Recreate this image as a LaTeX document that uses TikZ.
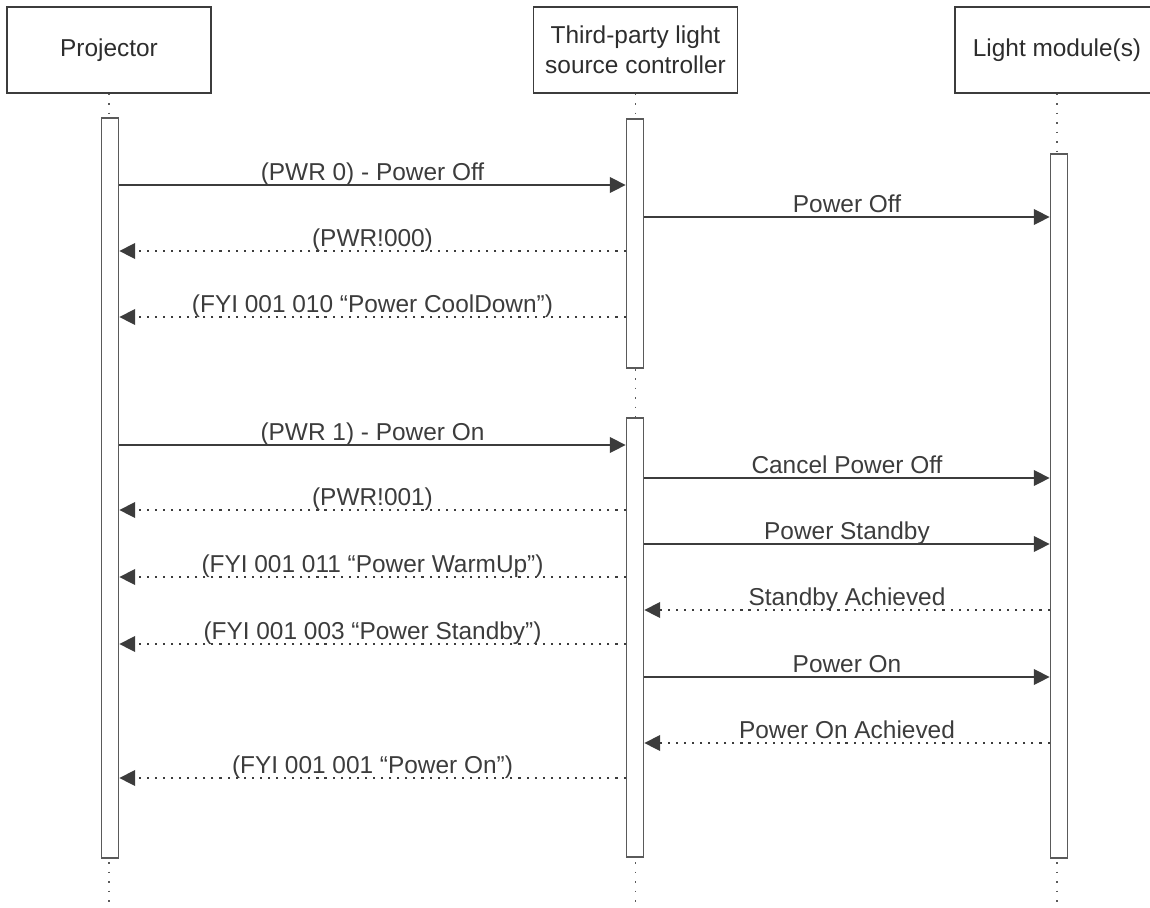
\documentclass[tikz,border=0pt]{standalone}
\usepackage{fontspec}
\setmainfont{Liberation Sans}
\definecolor{ink}{RGB}{45,45,45}
\definecolor{wire}{RGB}{60,60,60}
\definecolor{edge}{RGB}{90,90,90}
\usetikzlibrary{arrows.meta, positioning}

\begin{document}
\begin{tikzpicture}[x=0.02cm, y=-0.02cm,
    font=\fontsize{13.9}{17}\selectfont, text=ink,
    actor/.style={draw=wire, line width=0.7pt, minimum width=4.08cm, minimum height=1.72cm, align=center, inner sep=0pt},
    bar/.style={draw=edge, fill=white, line width=1pt, minimum width=0.34cm, inner sep=0pt},
    life/.style={edge, line width=0.8pt, dash pattern=on 1pt off 4.4pt},
    call/.style={wire, line width=0.75pt, -{Triangle[length=9pt,width=9pt]}},
    reply/.style={call, dash pattern=on 1.2pt off 3.4pt},
    lbl/.style={anchor=base, inner sep=0pt, yshift=0.1cm}]
\useasboundingbox (0,0) rectangle (1150,907);

% participants
\node[actor] (proj) at (109,50) {Projector};
\node[actor] (ctrl) at (635.5,50) {Third-party light\\source controller};
\node[actor] (light) at (1057,50) {Light module(s)};

% lifelines
\foreach \p in {proj, ctrl, light}
    \draw[life] (\p.south) -- (\p.south |- 0,907);

% activations
\node[bar, minimum height=14.8cm] (pbar) at (110,488) {};
\node[bar, minimum height=4.98cm] (cbarA) at (635,243.5) {};
\node[bar, minimum height=8.78cm] (cbarB) at (635,637.5) {};
\node[bar, minimum height=14.08cm] (lbar) at (1059,506) {};

% messages
\foreach \y/\s/\e/\k/\t in {
    185/pbar.east/cbarA.west/call/{(PWR 0) - Power Off},
    217/cbarA.east/lbar.west/call/{Power Off},
    251/cbarA.west/pbar.east/reply/{(PWR!000)},
    317/cbarA.west/pbar.east/reply/{(FYI 001 010 “Power CoolDown”)},
    445/pbar.east/cbarB.west/call/{(PWR 1) - Power On},
    478/cbarB.east/lbar.west/call/{Cancel Power Off},
    510/cbarB.west/pbar.east/reply/{(PWR!001)},
    544/cbarB.east/lbar.west/call/{Power Standby},
    577/cbarB.west/pbar.east/reply/{(FYI 001 011 “Power WarmUp”)},
    610/lbar.west/cbarB.east/reply/{Standby Achieved},
    644/cbarB.west/pbar.east/reply/{(FYI 001 003 “Power Standby”)},
    677/cbarB.east/lbar.west/call/{Power On},
    743/lbar.west/cbarB.east/reply/{Power On Achieved},
    778/cbarB.west/pbar.east/reply/{(FYI 001 001 “Power On”)}}
    \draw[\k] (\s |- 0,\y) -- node[lbl] {\t} (\e |- 0,\y);
\end{tikzpicture}
\end{document}
